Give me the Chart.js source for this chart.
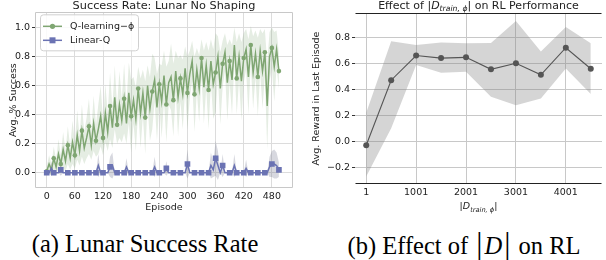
<!DOCTYPE html>
<html>
<head>
<meta charset="utf-8">
<script src="https://cdn.jsdelivr.net/npm/chart.js@4.4.1/dist/chart.umd.min.js"></script>
<style>
  body { margin: 0; width: 606px; height: 260px; background: #fff; position: relative; overflow: hidden; }
  #left { position: absolute; left: 0; top: 0; }
  #right { position: absolute; left: 300px; top: 0; }
  .cap { position: absolute; top: 231px; line-height: 25px; height: 25px; font-family: "Liberation Serif", serif; font-size: 24.5px; color: #000; white-space: nowrap; transform: translateX(-50%); }
  .bar { font-size: 31px; line-height: 25px; margin: 0 2px; }
</style>
</head>
<body>
<canvas id="left" width="300" height="220"></canvas>
<canvas id="right" width="306" height="220"></canvas>
<div class="cap" style="left:145px">(a) Lunar Success Rate</div>
<div class="cap" style="left:464px">(b) Effect of <span class="bar">|</span><i>D</i><span class="bar">|</span> on RL</div>
<script>
// ---- (a) success rate data, one value every 5 episodes ----
const episodes = [0, 5, 10, 15, 20, 25, 30, 35, 40, 45, 50, 55, 60, 65, 70, 75, 80, 85, 90, 95,
  100, 105, 110, 115, 120, 125, 130, 135, 140, 145, 150, 155, 160, 165, 170, 175, 180, 185, 190, 195,
  200, 205, 210, 215, 220, 225, 230, 235, 240, 245, 250, 255, 260, 265, 270, 275, 280, 285, 290, 295,
  300, 305, 310, 315, 320, 325, 330, 335, 340, 345, 350, 355, 360, 365, 370, 375, 380, 385, 390, 395,
  400, 405, 410, 415, 420, 425, 430, 435, 440, 445, 450, 455, 460, 465, 470, 475, 480, 485, 490, 495];

const qMean = [0.01, 0.06, 0.02, 0.10, 0.04, 0.13, 0.06, 0.16, 0.08, 0.19,
  0.10, 0.21, 0.12, 0.26, 0.15, 0.29, 0.17, 0.24, 0.32, 0.19,
  0.34, 0.22, 0.30, 0.39, 0.24, 0.41, 0.28, 0.46, 0.31, 0.52,
  0.33, 0.47, 0.36, 0.51, 0.34, 0.55, 0.39, 0.50, 0.37, 0.58,
  0.41, 0.55, 0.38, 0.60, 0.44, 0.56, 0.64, 0.45, 0.61, 0.49,
  0.67, 0.47, 0.62, 0.66, 0.50, 0.70, 0.52, 0.65, 0.54, 0.72,
  0.55, 0.68, 0.77, 0.54, 0.71, 0.58, 0.79, 0.59, 0.74, 0.57,
  0.77, 0.61, 0.69, 0.80, 0.58, 0.75, 0.83, 0.62, 0.77, 0.64,
  0.88, 0.65, 0.80, 0.63, 0.79, 0.85, 0.66, 0.88, 0.69, 0.82,
  0.66, 0.84, 0.70, 0.83, 0.46, 0.80, 0.86, 0.73, 0.85, 0.70];

const qStd = [0.03, 0.06, 0.04, 0.08, 0.05, 0.10, 0.06, 0.12, 0.07, 0.13,
  0.08, 0.15, 0.09, 0.17, 0.10, 0.18, 0.11, 0.14, 0.19, 0.10,
  0.19, 0.11, 0.17, 0.21, 0.12, 0.20, 0.13, 0.23, 0.14, 0.22,
  0.13, 0.23, 0.15, 0.24, 0.14, 0.21, 0.25, 0.16, 0.22, 0.15,
  0.24, 0.16, 0.25, 0.14, 0.22, 0.26, 0.15, 0.23, 0.14, 0.25,
  0.17, 0.26, 0.15, 0.23, 0.25, 0.14, 0.27, 0.16, 0.24, 0.15,
  0.25, 0.16, 0.14, 0.26, 0.15, 0.23, 0.13, 0.25, 0.16, 0.27,
  0.15, 0.24, 0.27, 0.14, 0.25, 0.16, 0.13, 0.26, 0.15, 0.24,
  0.12, 0.25, 0.16, 0.27, 0.17, 0.14, 0.26, 0.13, 0.25, 0.16,
  0.27, 0.15, 0.26, 0.16, 0.30, 0.17, 0.14, 0.24, 0.13, 0.12];

const linMean = [0, 0, 0.03, 0, 0, 0, 0.02, 0, 0, 0,
  0, 0, 0, 0, 0, 0, 0, 0, 0, 0,
  0, 0, 0.05, 0, 0, 0, 0, 0.04, 0.05, 0,
  0, 0, 0, 0, 0.04, 0, 0, 0, 0, 0,
  0, 0, 0, 0, 0, 0, 0.04, 0, 0, 0,
  0, 0.03, 0, 0, 0, 0, 0, 0, 0, 0,
  0.06, 0, 0, 0, 0, 0, 0, 0, 0, 0,
  0.05, 0.02, 0.10, 0.05, 0, 0.05, 0, 0, 0, 0,
  0.05, 0, 0, 0, 0, 0.03, 0, 0, 0, 0,
  0, 0, 0, 0, 0, 0.04, 0.06, 0.06, 0.05, 0.02];

const linStd = [0, 0, 0.05, 0, 0, 0, 0.04, 0, 0, 0,
  0, 0, 0, 0, 0, 0, 0, 0, 0, 0,
  0, 0, 0.08, 0, 0, 0, 0, 0.07, 0.09, 0,
  0, 0, 0, 0, 0.06, 0, 0, 0, 0, 0,
  0, 0, 0, 0, 0, 0, 0.07, 0, 0, 0,
  0, 0.05, 0, 0, 0, 0, 0, 0, 0, 0,
  0.10, 0, 0, 0, 0, 0, 0, 0, 0, 0,
  0.09, 0.05, 0.12, 0.10, 0, 0.08, 0, 0, 0, 0,
  0.08, 0, 0, 0, 0, 0.06, 0, 0, 0, 0,
  0, 0, 0, 0, 0, 0.07, 0.09, 0.10, 0.09, 0.05];

const episodeTicks = [0, 60, 120, 180, 240, 300, 360, 420, 480];
const successTicks = [0.0, 0.2, 0.4, 0.6, 0.8, 1.0];

// ---- (b) effect of training set size ----
const trainSizes = [1, 501, 1001, 1501, 2001, 2501, 3001, 3501, 4001, 4501];
const rewardMean = [-0.03, 0.47, 0.66, 0.64, 0.646, 0.554, 0.60, 0.512, 0.72, 0.558];
const rewardHigh = [0.22, 0.77, 0.74, 0.76, 0.755, 0.756, 0.925, 0.69, 0.88, 0.754];
const rewardLow = [-0.27, 0.10, 0.587, 0.528, 0.535, 0.343, 0.277, 0.33, 0.56, 0.364];
const sizeTicks = [1, 1001, 2001, 3001, 4001];
const rewardTicks = [-0.2, 0.0, 0.2, 0.4, 0.6, 0.8];

const GREEN = '#7fa672';
const BLUE = '#6b73b3';
const TEXT = '#222';
const FONT = '"DejaVu Sans"';

function pts(xs, ys) {
  return xs.map((x, i) => ({ x: x, y: ys[i] }));
}

function fixTicks(values) {
  return scale => { scale.ticks = values.map(v => ({ value: v })); };
}

function fontOf(seg, size) {
  const s = seg.sub ? size * 0.7 : size;
  return (seg.i ? 'italic ' : '') + s + 'px ' + FONT;
}

// draws a line of text with italic / subscript pieces, centred on cx
function drawRich(ctx, segs, cx, cy, size) {
  ctx.save();
  ctx.fillStyle = TEXT;
  ctx.textBaseline = 'middle';
  let total = 0;
  const widths = segs.map(s => {
    ctx.font = fontOf(s, size);
    const w = ctx.measureText(s.t).width;
    total += w;
    return w;
  });
  let x = cx - total / 2;
  segs.forEach((s, k) => {
    ctx.font = fontOf(s, size);
    ctx.fillText(s.t, x, cy + (s.sub ? size * 0.3 : 0));
    x += widths[k];
  });
  ctx.restore();
}

// plain rectangle / lines around the plot area
const framePlugin = {
  id: 'frame',
  afterDatasetsDraw(chart, args, opts) {
    const a = chart.chartArea, ctx = chart.ctx;
    const l = Math.round(a.left) + 0.5, r = Math.round(a.right) - 0.5;
    const t = Math.round(a.top) + 0.5, b = Math.round(a.bottom) - 0.5;
    ctx.save();
    ctx.strokeStyle = opts.color;
    ctx.lineWidth = opts.width;
    ctx.beginPath();
    if (opts.sides.includes('t')) { ctx.moveTo(l, t); ctx.lineTo(r, t); }
    if (opts.sides.includes('b')) { ctx.moveTo(l, b); ctx.lineTo(r, b); }
    if (opts.sides.includes('l')) { ctx.moveTo(l, t); ctx.lineTo(l, b); }
    if (opts.sides.includes('r')) { ctx.moveTo(r, t); ctx.lineTo(r, b); }
    ctx.stroke();
    ctx.restore();
  }
};

// matplotlib-like legend box (line + marker + label)
const boxLegend = {
  id: 'boxLegend',
  afterDraw(chart) {
    const ctx = chart.ctx, a = chart.chartArea;
    const items = chart.data.datasets.filter(d => d.inLegend);
    const x = a.left + 5, y = a.top + 2;
    ctx.save();
    ctx.fillStyle = 'rgba(255,255,255,0.85)';
    ctx.strokeStyle = '#d0d0d0';
    ctx.lineWidth = 1;
    ctx.beginPath();
    ctx.roundRect(x + 0.5, y + 0.5, 98, 36, 3);
    ctx.fill();
    ctx.stroke();
    items.forEach((d, i) => {
      const cy = y + 12 + i * 14;
      ctx.strokeStyle = d.borderColor;
      ctx.lineWidth = 1.5;
      ctx.beginPath();
      ctx.moveTo(x + 3, cy);
      ctx.lineTo(x + 22, cy);
      ctx.stroke();
      ctx.fillStyle = d.borderColor;
      if (d.pointStyle === 'rect') {
        ctx.fillRect(x + 9.5, cy - 3, 6, 6);
      } else {
        ctx.beginPath();
        ctx.arc(x + 12.5, cy, 2.6, 0, Math.PI * 2);
        ctx.fill();
      }
      ctx.fillStyle = TEXT;
      ctx.font = '9.5px ' + FONT;
      ctx.textBaseline = 'middle';
      ctx.fillText(d.label, x + 30, cy);
    });
    ctx.restore();
  }
};

const mathText = {
  id: 'mathText',
  afterDraw(chart, args, opts) {
    const a = chart.chartArea, cx = (a.left + a.right) / 2;
    drawRich(chart.ctx, opts.title, cx, opts.titleY, opts.titleSize);
    drawRich(chart.ctx, opts.xlabel, cx, opts.xlabelY, opts.xlabelSize);
  }
};

Chart.defaults.font.family = FONT;
Chart.defaults.color = TEXT;

// ---------- chart (a) ----------
const qHigh = qMean.map((v, i) => v + qStd[i]);
const qLow = qMean.map((v, i) => v - qStd[i]);
const linHigh = linMean.map((v, i) => v + linStd[i]);
const linLow = linMean.map((v, i) => v - linStd[i]);

new Chart(document.getElementById('left'), {
  type: 'line',
  plugins: [framePlugin, boxLegend],
  data: {
    datasets: [
      { data: pts(episodes, qHigh), borderColor: 'transparent', borderWidth: 0, pointRadius: 0,
        fill: '+1', backgroundColor: 'rgba(127,166,114,0.2)', order: 5 },
      { data: pts(episodes, qLow), borderColor: 'transparent', borderWidth: 0, pointRadius: 0, fill: false, order: 5 },
      { label: 'Q-learning\u2212\u03d5', inLegend: true, data: pts(episodes, qMean),
        borderColor: GREEN, borderWidth: 1.5, backgroundColor: GREEN,
        pointRadius: c => (c.dataIndex % 3 === 0 ? 2.3 : 0), pointBorderWidth: 0, order: 4 },
      { data: pts(episodes, linHigh), borderColor: 'transparent', borderWidth: 0, pointRadius: 0,
        fill: '+1', backgroundColor: 'rgba(110,115,140,0.28)', order: 3 },
      { data: pts(episodes, linLow), borderColor: 'transparent', borderWidth: 0, pointRadius: 0, fill: false, order: 3 },
      { label: 'Linear-Q', inLegend: true, data: pts(episodes, linMean),
        borderColor: BLUE, borderWidth: 1.5, backgroundColor: BLUE, pointStyle: 'rect',
        pointRadius: c => (c.dataIndex % 3 === 0 ? 4 : 0), pointBorderWidth: 0, order: 1 }
    ]
  },
  options: {
    responsive: false,
    animation: false,
    devicePixelRatio: 1,
    events: [],
    layout: { padding: { left: 0, right: 7, top: 0, bottom: 0 } },
    plugins: {
      legend: { display: false },
      tooltip: { enabled: false },
      title: { display: true, fullSize: false, text: 'Success Rate: Lunar No Shaping',
        font: { size: 11.3, lineHeight: 1.09, weight: 'normal' }, color: TEXT, padding: 0 },
      frame: { color: '#c8c8c8', width: 1, sides: 'tblr' }
    },
    scales: {
      x: {
        type: 'linear', min: -25, max: 525,
        afterBuildTicks: fixTicks(episodeTicks),
        afterFit: s => { s.height = 32; },
        grid: { color: '#dcdcdc', drawTicks: false },
        border: { display: false },
        ticks: { autoSkip: false, maxRotation: 0, padding: 3, font: { size: 9.5 }, color: TEXT,
          callback: v => String(v) },
        title: { display: true, text: 'Episode', font: { size: 9.5 }, color: TEXT, padding: { top: 0, bottom: 7 } }
      },
      y: {
        min: -0.105, max: 1.105,
        afterBuildTicks: fixTicks(successTicks),
        afterFit: s => { s.width = 35; },
        grid: { color: '#dcdcdc', tickLength: 3, tickColor: '#333' },
        border: { display: false },
        ticks: { padding: 2, font: { size: 9.5 }, color: TEXT, callback: v => v.toFixed(1) },
        title: { display: true, text: 'Avg. % Success', font: { size: 9.5 }, color: TEXT, padding: { top: 8, bottom: 0 } }
      }
    }
  }
});

// ---------- chart (b) ----------
new Chart(document.getElementById('right'), {
  type: 'line',
  plugins: [framePlugin, mathText],
  data: {
    datasets: [
      { data: pts(trainSizes, rewardHigh), borderColor: 'transparent', borderWidth: 0, pointRadius: 0,
        fill: '+1', backgroundColor: 'rgba(128,128,128,0.33)', order: 3 },
      { data: pts(trainSizes, rewardLow), borderColor: 'transparent', borderWidth: 0, pointRadius: 0, fill: false, order: 3 },
      { data: pts(trainSizes, rewardMean), borderColor: '#555', borderWidth: 1.1, backgroundColor: '#555',
        pointRadius: 3, pointBorderWidth: 0, order: 1 }
    ]
  },
  options: {
    responsive: false,
    animation: false,
    devicePixelRatio: 1,
    events: [],
    layout: { padding: { left: 0, right: 0, top: 13, bottom: 0 } },
    plugins: {
      legend: { display: false },
      tooltip: { enabled: false },
      frame: { color: '#222', width: 1.2, sides: 'tb' },
      mathText: {
        titleY: 6, titleSize: 11,
        title: [{ t: 'Effect of |' }, { t: 'D', i: 1 }, { t: 'train, \u03d5', i: 1, sub: 1 }, { t: '| on RL Performance' }],
        xlabelY: 207, xlabelSize: 9.5,
        xlabel: [{ t: '|' }, { t: 'D', i: 1 }, { t: 'train, \u03d5', i: 1, sub: 1 }, { t: '|' }]
      }
    },
    scales: {
      x: {
        type: 'linear', min: -224, max: 4726,
        afterBuildTicks: fixTicks(sizeTicks),
        afterFit: s => { s.height = 36; },
        grid: { color: '#c8c8c8', drawTicks: false },
        border: { display: false },
        ticks: { autoSkip: false, maxRotation: 0, padding: 3, font: { size: 9.5 }, color: TEXT,
          callback: v => String(v) }
      },
      y: {
        min: -0.328, max: 0.987,
        afterBuildTicks: fixTicks(rewardTicks),
        afterFit: s => { s.width = 55; },
        grid: { color: '#c8c8c8', tickLength: 3, tickColor: '#333' },
        border: { display: false },
        ticks: { padding: 2, font: { size: 9.5 }, color: TEXT,
          callback: v => (v < 0 ? '\u2212' + Math.abs(v).toFixed(1) : v.toFixed(1)) },
        title: { display: true, text: 'Avg. Reward in Last Episode', font: { size: 9.5 }, color: TEXT, padding: { top: 11, bottom: 0 } }
      }
    }
  }
});
</script>
</body>
</html>
